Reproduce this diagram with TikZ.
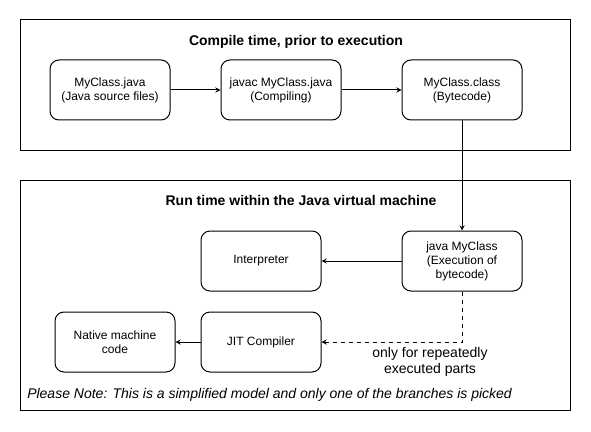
\documentclass[tikz,border=0pt]{standalone}
\usepackage{fontspec}
\setmainfont{Liberation Sans}
\usetikzlibrary{positioning}

\tikzstyle{container} = [rectangle, draw=black, line width=0.75pt, minimum width=412.5pt, inner sep=0pt]
\tikzstyle{process} = [rectangle, rounded corners=6.75pt, minimum width=90pt, minimum height=45pt, align=center, draw=black, fill=white, line width=0.75pt, inner sep=0pt, font=\fontsize{9}{10.5}\selectfont]
\tikzstyle{heading} = [font=\bfseries\fontsize{10.5}{12}\selectfont]
\tikzstyle{arrow} = [line width=0.75pt,->,>=stealth]

\begin{document}
\begin{tikzpicture}[x=0.75pt, y=-0.75pt]

    \useasboundingbox (0,0) rectangle (591,431);

    % Containers
    \node (compiletime) [container, minimum height=97.5pt] at (295,85) {};
    \node (runtime) [container, minimum height=172.5pt] at (295,295) {};
    \node (compiletitle) [heading] at (296,42) {Compile time, prior to execution};
    \node (runtitle) [heading] at (301,200) {Run time within the Java virtual machine};

    % Nodes
    \node (source) [process] at (110,90) {MyClass.java\\(Java source files)};
    \node (javac) [process, right=37.5pt of source] {javac MyClass.java\\(Compiling)};
    \node (bytecode) [process, right=45pt of javac] {MyClass.class\\(Bytecode)};

    \node (execution) [process, below=82.5pt of bytecode] {java MyClass\\(Execution of\\bytecode)};
    \node (interpreter) [process, left=60pt of execution] {Interpreter};
    \node (jit) [process, below=15pt of interpreter] {JIT Compiler};
    \node (native) [process, left=18.75pt of jit] {Native machine\\code};

    \node (repeated) [align=center, font=\fontsize{10.5}{12}\selectfont] at (430,362) {only for repeatedly\\executed parts};
    \node (note) [anchor=west, inner sep=0pt, font=\itshape\fontsize{10.5}{12}\selectfont] at (27,395) {Please Note: This is a simplified model and only one of the branches is picked};

    % Arrows
    \draw [arrow] (source) -- (javac);
    \draw [arrow] (javac) -- (bytecode);
    \draw [arrow] (bytecode) -- (execution);

    \draw [arrow] (execution) -- (interpreter);
    \draw [arrow, dashed] (execution) |- (jit);
    \draw [arrow] (jit) -- (native);

\end{tikzpicture}
\end{document}
